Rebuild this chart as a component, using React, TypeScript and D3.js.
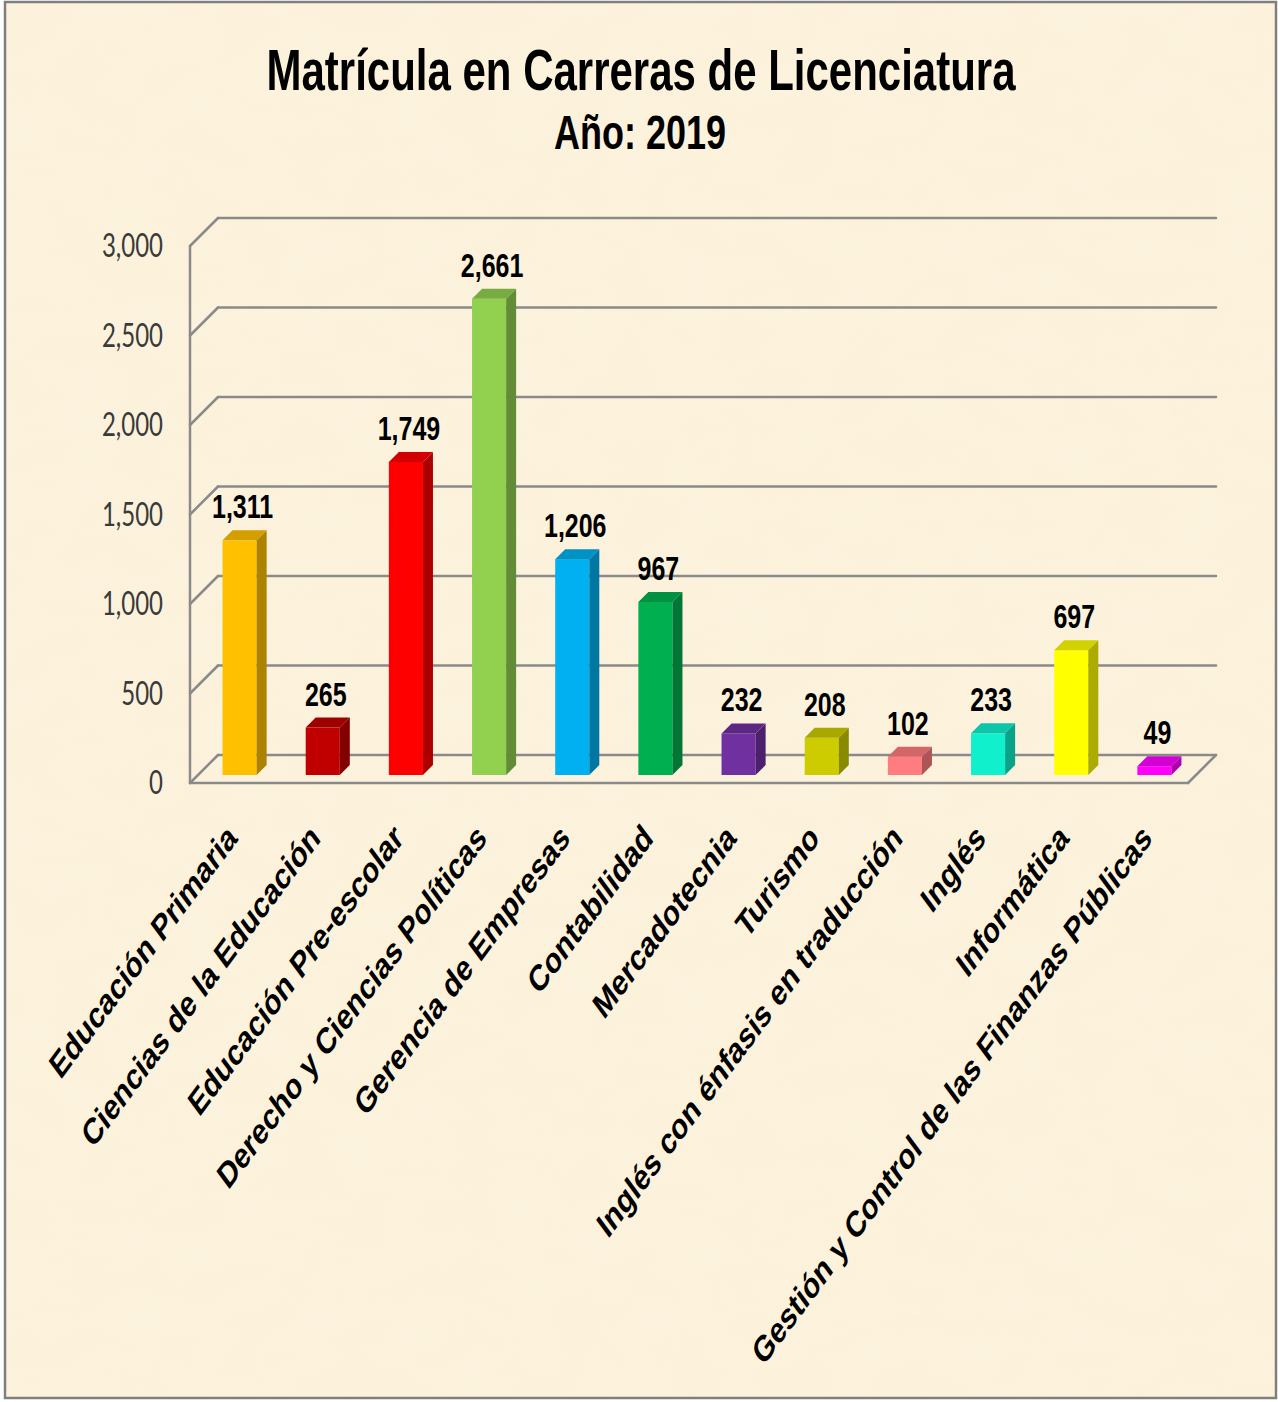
import React from 'react';
import * as d3 from 'd3';

// chart data
const categories = [
  'Educación Primaria',
  'Ciencias de la Educación',
  'Educación Pre-escolar',
  'Derecho y Ciencias Políticas',
  'Gerencia de Empresas',
  'Contabilidad',
  'Mercadotecnia',
  'Turismo',
  'Inglés con énfasis en traducción',
  'Inglés',
  'Informática',
  'Gestión y Control de las Finanzas Públicas',
];
const values = [1311, 265, 1749, 2661, 1206, 967, 232, 208, 102, 233, 697, 49];
const barColors = [
  '#ffc000', '#c00000', '#ff0000', '#92d050', '#00b0f0', '#00b050',
  '#7030a0', '#cccc00', '#ff7c80', '#10f0cc', '#ffff00', '#ff00ff',
];
const yTicks = [0, 500, 1000, 1500, 2000, 2500, 3000];

const W = 1278;
const H = 1402;
const STRETCH = 1.35; // the picture is stretched vertically
const DEPTH = 28; // wall depth in px (x and y)
const BAR_OFF = 8; // bars sit this far into the floor
const BAR_D = 10; // bar side depth

const left = 190;
const right = 1188;
const floorY = 783;

export default function App() {
  const y = d3.scaleLinear().domain([0, 3000]).range([floorY, floorY - 537]);
  const x = d3
    .scaleBand<string>()
    .domain(categories)
    .range([left + BAR_OFF, right + BAR_OFF])
    .paddingInner(0.59)
    .paddingOuter(0.295);
  const bw = x.bandwidth();
  const fmt = d3.format(',');
  const gridColor = '#8a8a8a';

  return (
    <svg
      width={W}
      height={H}
      style={{ position: 'absolute', left: 0, top: 0, display: 'block' }}
      fontFamily="'Liberation Sans', Arial, sans-serif"
    >
      <defs>
        <filter id="paper" x="0" y="0" width="100%" height="100%">
          <feTurbulence type="fractalNoise" baseFrequency="0.018 0.03" numOctaves="4" seed="4" result="n" />
          <feColorMatrix
            in="n"
            type="matrix"
            values="0 0 0 0 0.97  0 0 0 0 0.90  0 0 0 0 0.74  0 0 0 1.1 -0.42"
          />
        </filter>
      </defs>

      {/* background */}
      <rect x={0} y={0} width={W} height={H} fill="#fff" />
      <rect x={5} y={2} width={1271} height={1396} fill="#fcf2dc" />
      <rect x={5} y={2} width={1271} height={1396} filter="url(#paper)" opacity={0.75} />
      <rect x={5} y={2} width={1271} height={1396} fill="none" stroke="#7f7f7f" strokeWidth={2.5} />

      {/* title */}
      <text
        transform={`translate(641,90) scale(1,${STRETCH})`}
        textAnchor="middle"
        fontSize={42}
        fontWeight="bold"
        fill="#000"
      >
        Matrícula en Carreras de Licenciatura
      </text>
      <text
        transform={`translate(640,149) scale(1,${STRETCH})`}
        textAnchor="middle"
        fontSize={36}
        fontWeight="bold"
        fill="#000"
      >
        Año: 2019
      </text>

      {/* walls and gridlines */}
      <g stroke={gridColor} strokeWidth={2.5} fill="none" strokeLinecap="round">
        {yTicks.map((t) => (
          <g key={t}>
            <line x1={left + DEPTH} x2={right + DEPTH} y1={y(t) - DEPTH} y2={y(t) - DEPTH} />
            <line x1={left} x2={left + DEPTH} y1={y(t)} y2={y(t) - DEPTH} />
          </g>
        ))}
        <line x1={left} x2={left} y1={y(3000)} y2={y(0)} />
      </g>

      {/* y tick labels */}
      <g fontFamily="Lato, 'Open Sans', sans-serif" fontSize={24} fill="#3a3a3a">
        {yTicks.map((t) => (
          <text key={t} transform={`translate(163,${y(t) + 11}) scale(1,${STRETCH})`} textAnchor="end">
            {fmt(t)}
          </text>
        ))}
      </g>

      {/* bars */}
      {categories.map((c, i) => {
        const x0 = x(c)!;
        const x1 = x0 + bw;
        const base = y(0) - BAR_OFF;
        const top = y(values[i]) - BAR_OFF;
        const col = d3.color(barColors[i])!;
        const side = col.darker(1.1).formatHex();
        const lid = col.darker(0.55).formatHex();
        return (
          <g key={c}>
            <rect x={x0} y={top} width={bw} height={base - top} fill={barColors[i]} />
            <polygon
              points={`${x1},${top} ${x1 + BAR_D},${top - BAR_D} ${x1 + BAR_D},${base - BAR_D} ${x1},${base}`}
              fill={side}
            />
            <polygon
              points={`${x0},${top} ${x0 + BAR_D},${top - BAR_D} ${x1 + BAR_D},${top - BAR_D} ${x1},${top}`}
              fill={lid}
            />
            <text
              transform={`translate(${x0 + bw / 2 + 3},${top - BAR_D - 12}) scale(1,${STRETCH})`}
              textAnchor="middle"
              fontSize={25}
              fontWeight="bold"
              fill="#000"
            >
              {fmt(values[i])}
            </text>
          </g>
        );
      })}

      {/* floor front edges */}
      <g stroke={gridColor} strokeWidth={2.5} fill="none" strokeLinecap="round">
        <line x1={left} x2={right} y1={y(0)} y2={y(0)} />
        <line x1={right} x2={right + DEPTH} y1={y(0)} y2={y(0) - DEPTH} />
      </g>

      {/* category labels */}
      <g fontSize={27} fontWeight="bold" fill="#000">
        {categories.map((c) => (
          <text
            key={c}
            transform={`translate(${x(c)! + bw / 2 - 1},840) scale(1,${STRETCH}) rotate(-45)`}
            textAnchor="end"
          >
            {c}
          </text>
        ))}
      </g>
    </svg>
  );
}
